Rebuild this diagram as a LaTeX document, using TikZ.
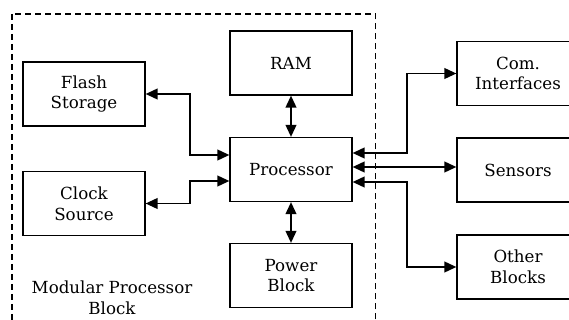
\documentclass[tikz,border=0pt]{standalone}
\usepackage{fontspec}
\setmainfont{DejaVu Serif}
\usetikzlibrary{arrows.meta, positioning, calc}

\begin{document}
\begin{tikzpicture}[
    x=0.75pt, y=-0.75pt,
    every node/.style={font=\rmfamily\fontsize{12.5}{15.5}\selectfont},
    block/.style={rectangle, draw, line width=0.9pt, minimum width=91.5pt, minimum height=48pt, align=center},
    arr/.style={{Triangle[length=9pt, width=8pt]}-{Triangle[length=9pt, width=8pt]}, line width=1.4pt},
    frame/.style={draw, line width=0.8pt, dash pattern=on 4.5pt off 3pt}
]
    \useasboundingbox (0,0) rectangle (569,320);

    % Module boundary (runs off the bottom of the page)
    \draw[frame] (12,14) rectangle (375.5,335);
    \node[align=center] (title) at (112,298) {Modular Processor\\Block};

    % Blocks inside the module
    \node[block] (flash) at (84,94) {Flash\\Storage};
    \node[block] (clock) at (84,203.5) {Clock\\Source};
    \node[block] (ram) at (291,63) {RAM};
    \node[block] (proc) at (291,169.5) {Processor};
    \node[block] (power) at (291,275.5) {Power\\Block};

    % External blocks (cut by the right page edge)
    \node[block] (com) at (518,73.5) {Com.\\Interfaces};
    \node[block] (sens) at (518,170) {Sensors};
    \node[block] (other) at (518,267) {Other\\Blocks};

    % Links
    \draw[arr] (flash.east) -- ++(44,0) |- ($(proc.west)+(0,-14.5)$);
    \draw[arr] (clock.east) -- ++(44,0) |- ($(proc.west)+(0,11.5)$);
    \draw[arr] (ram.south) -- (proc.north);
    \draw[arr] (proc.south) -- (power.north);
    \draw[arr] ($(proc.east)+(0,-16.5)$) -- ++(54,0) |- (com.west);
    \draw[arr] ($(proc.east)+(0,-2.5)$) -- ($(sens.west)+(0,-3)$);
    \draw[arr] ($(proc.east)+(0,12.5)$) -- ++(54,0) |- (other.west);
\end{tikzpicture}
\end{document}
